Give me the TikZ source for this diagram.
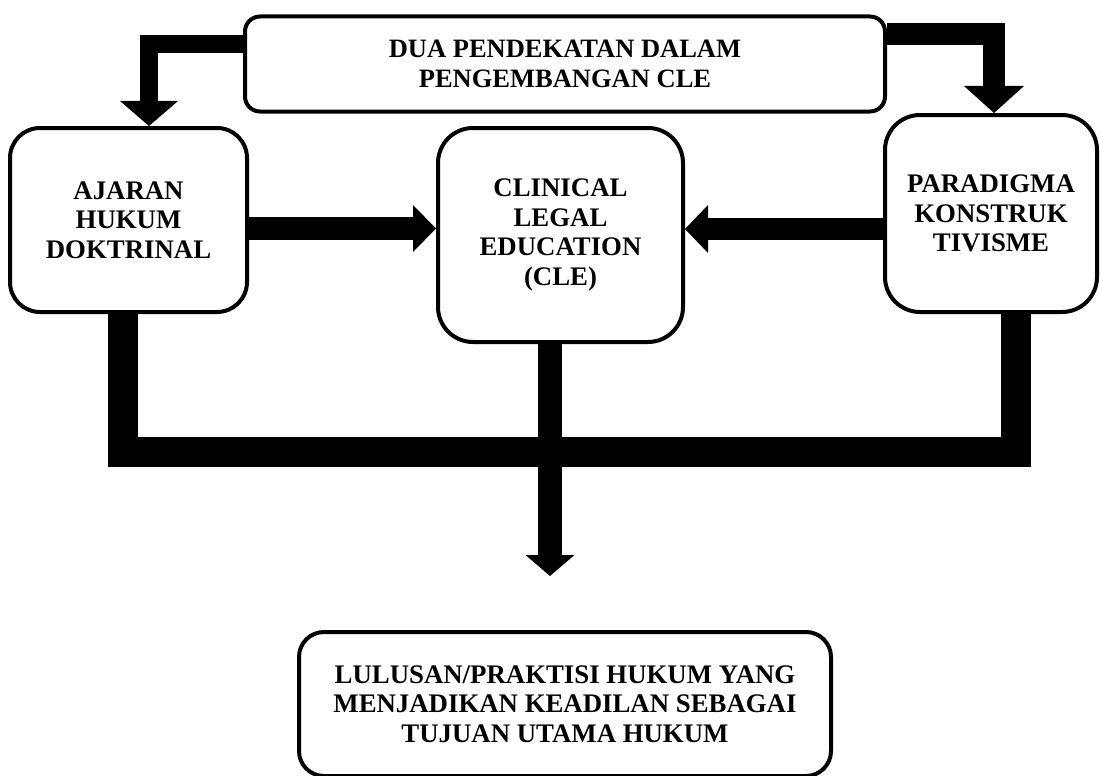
\documentclass[tikz,border=0pt]{standalone}
\usepackage{fontspec}
\setmainfont{Liberation Serif}
\usetikzlibrary{arrows.meta}
\begin{document}
\begin{tikzpicture}[x=1pt,y=-1pt,
  box/.style={draw=black,line width=4pt,fill=white,align=center,inner sep=0pt,
    font=\bfseries\fontsize{26.8}{29.5}\selectfont},
  blockarrow/.style={line width=#1,line join=miter,line cap=butt},
]
\useasboundingbox (0,0) rectangle (1101,776);
% boxes
\node[box,rounded corners=15pt,minimum width=640pt,minimum height=95pt,
  font=\bfseries\fontsize{26.5}{30}\selectfont] (top) at (565,64)
  {DUA PENDEKATAN DALAM\\PENGEMBANGAN CLE};
\node[box,rounded corners=30pt,minimum width=237pt,minimum height=184pt] (left) at (128.5,220)
  {AJARAN\\HUKUM\\DOKTRINAL};
\node[box,rounded corners=35pt,minimum width=245pt,minimum height=214pt] (cle) at (560.5,235)
  {CLINICAL\\LEGAL\\EDUCATION\\(CLE)};
\node[box,rounded corners=35pt,minimum width=212pt,minimum height=197pt] (right) at (991,213.5)
  {PARADIGMA\\KONSTRUK\\TIVISME};
\node[box,rounded corners=25pt,minimum width=532pt,minimum height=144pt] (bottom) at (565,704)
  {LULUSAN/PRAKTISI HUKUM YANG\\MENJADIKAN KEADILAN SEBAGAI\\TUJUAN UTAMA HUKUM};
% helper coordinates
\coordinate (ta) at (149,44);
\coordinate (tb) at (994,34);
\coordinate (h1) at (0,228.5);
\coordinate (h2) at (0,229);
\coordinate (jl) at (123,452);
\coordinate (jr) at (1016,452);
\coordinate (tip) at (550,576);
% connectors
\draw[blockarrow=18pt,-{Triangle[width=58pt,length=25pt,line width=0pt]}]
  (top.west |- ta) -| (left.north -| ta);
\draw[blockarrow=22pt,-{Triangle[width=60pt,length=27pt,line width=0pt]}]
  (top.east |- tb) -| (right.north -| tb);
\draw[blockarrow=23pt,-{Triangle[width=47pt,length=23pt,line width=0pt]}]
  (left.east |- h1) -- (cle.west |- h1);
\draw[blockarrow=22pt,-{Triangle[width=48pt,length=23pt,line width=0pt]}]
  (right.west |- h2) -- (cle.east |- h2);
\draw[blockarrow=30pt]
  (left.south -| jl) -- (jl) -- (jr) -- (right.south -| jr);
\draw[blockarrow=24pt,-{Triangle[width=49pt,length=21pt,line width=0pt]}]
  (cle.south -| tip) -- (tip);
\end{tikzpicture}
\end{document}
